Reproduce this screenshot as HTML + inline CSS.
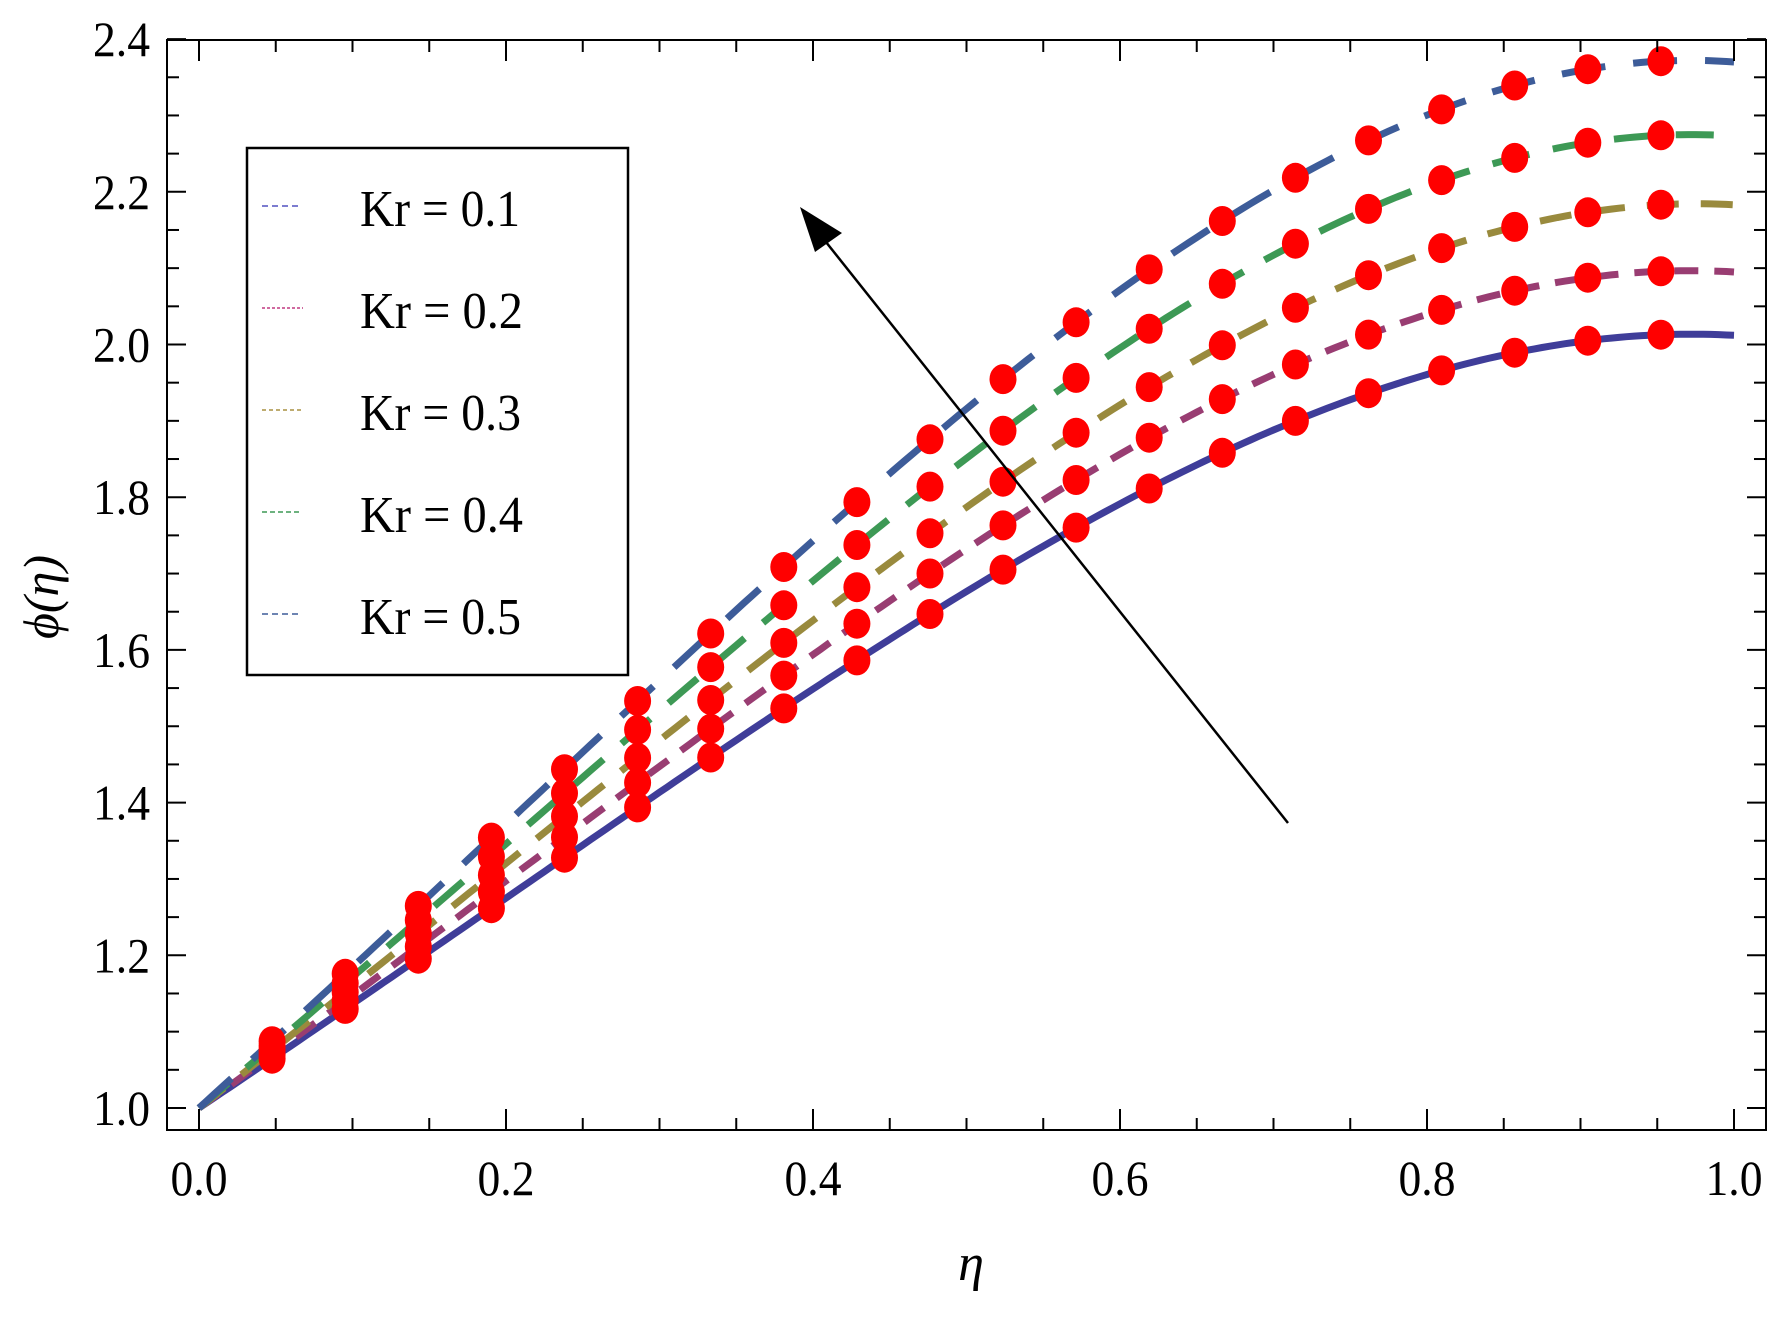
<!DOCTYPE html>
<html><head><meta charset="utf-8"><style>
html,body{margin:0;padding:0;background:#fff;}
svg{display:block;}
text{font-family:"Liberation Serif",serif;fill:#000;}
</style></head><body>
<svg id="s" width="1787" height="1320" viewBox="0 0 1787 1320" xmlns="http://www.w3.org/2000/svg">
<rect width="1787" height="1320" fill="#fff"/>
<g id="curves"></g>
<g id="marks"></g>
<rect x="167" y="40" width="1599" height="1090" fill="none" stroke="#000" stroke-width="2"/>
<g id="ticks" stroke="#000" stroke-width="2"></g>
<g id="labels" font-size="50"></g>
<!-- legend -->
<rect x="247" y="148" width="381" height="527" fill="#fff" stroke="#000" stroke-width="2.5"/>
<g font-size="52">
<line x1="262" y1="206" x2="301" y2="206" stroke="#5050c0" stroke-width="1.5" stroke-dasharray="6,4"/>
<text x="360" y="226" textLength="160" lengthAdjust="spacingAndGlyphs">Kr = 0.1</text>
<line x1="262" y1="308" x2="303" y2="308" stroke="#c03a80" stroke-width="1.5" stroke-dasharray="3,2"/>
<text x="360" y="328" textLength="163" lengthAdjust="spacingAndGlyphs">Kr = 0.2</text>
<line x1="262" y1="410" x2="301" y2="410" stroke="#a89040" stroke-width="1.5" stroke-dasharray="4,3"/>
<text x="360" y="430" textLength="161" lengthAdjust="spacingAndGlyphs">Kr = 0.3</text>
<line x1="262" y1="512" x2="301" y2="512" stroke="#3d9955" stroke-width="1.5" stroke-dasharray="5,3"/>
<text x="360" y="532" textLength="163" lengthAdjust="spacingAndGlyphs">Kr = 0.4</text>
<line x1="262" y1="614" x2="301" y2="614" stroke="#3d5c99" stroke-width="1.5" stroke-dasharray="6,4"/>
<text x="360" y="634" textLength="161" lengthAdjust="spacingAndGlyphs">Kr = 0.5</text>
</g>
<!-- arrow -->
<line x1="1288" y1="823" x2="818" y2="232" stroke="#000" stroke-width="2.5"/>
<polygon points="800,207 842,233 815,252" fill="#000"/>
<!-- axis titles -->
<text x="971" y="1280" font-size="52" font-style="italic" text-anchor="middle">η</text>
<text transform="translate(58,597) rotate(-90)" font-size="50" font-style="italic" text-anchor="middle">ϕ(η)</text>
</svg>
<script>
var NS="http://www.w3.org/2000/svg";
function X(e){return 199+e*1535;}
function Y(p){return 1108-(p-1)*763.5;}
function el(t,a,parent){var e=document.createElementNS(NS,t);for(var k in a)e.setAttribute(k,a[k]);document.getElementById(parent).appendChild(e);return e;}
var series=[
 {E:2.012,c:"#3f3d99",d:null,k:0.035},
 {E:2.095,c:"#993d72",d:"24,16",k:0.035},
 {E:2.183,c:"#998a3d",d:"32,22",k:0.03},
 {E:2.273,c:"#3d9955",d:"38,24",k:0.035},
 {E:2.370,c:"#3d5c99",d:"44,28",k:0.035}];
function g(e,k){return (e-Math.pow(e,4)/4)/0.75*(1+k*Math.sin(Math.PI*e)) ;}
series.forEach(function(s){
 var pts=[];for(var i=0;i<=200;i++){var e=i/200;pts.push(X(e).toFixed(1)+","+Y(1+(s.E-1)*g(e,s.k)).toFixed(1));}
 var a={points:pts.join(" "),fill:"none",stroke:s.c,"stroke-width":7};
 if(s.d)a["stroke-dasharray"]=s.d;
 el("polyline",a,"curves");
});
series.forEach(function(s){
 for(var j=1;j<=20;j++){var e=j/21;el("ellipse",{cx:X(e).toFixed(1),cy:Y(1+(s.E-1)*g(e,s.k)).toFixed(1),rx:13.5,ry:15,fill:"#ff0000"},"marks");}
});
// x ticks
for(var i=0;i<=20;i++){var e=i*0.05,x=X(e),L=(i%4==0)?21:12;
 el("line",{x1:x,y1:1130,x2:x,y2:1130-L},"ticks");
 el("line",{x1:x,y1:40,x2:x,y2:40+L},"ticks");
 if(i%4==0){var t=el("text",{x:x,y:1195,"text-anchor":"middle",textLength:57,lengthAdjust:"spacingAndGlyphs"},"labels");t.textContent=e.toFixed(1);}
}
// y ticks
for(var i=0;i<=28;i++){var p=1+i*0.05,y=Y(p),L=(i%4==0)?19:12;
 el("line",{x1:167,y1:y,x2:167+L,y2:y},"ticks");
 el("line",{x1:1766,y1:y,x2:1766-L,y2:y},"ticks");
 if(i%4==0){var t=el("text",{x:150,y:y+17,"text-anchor":"end",textLength:57,lengthAdjust:"spacingAndGlyphs"},"labels");t.textContent=p.toFixed(1);}
}
</script>
</body></html>
